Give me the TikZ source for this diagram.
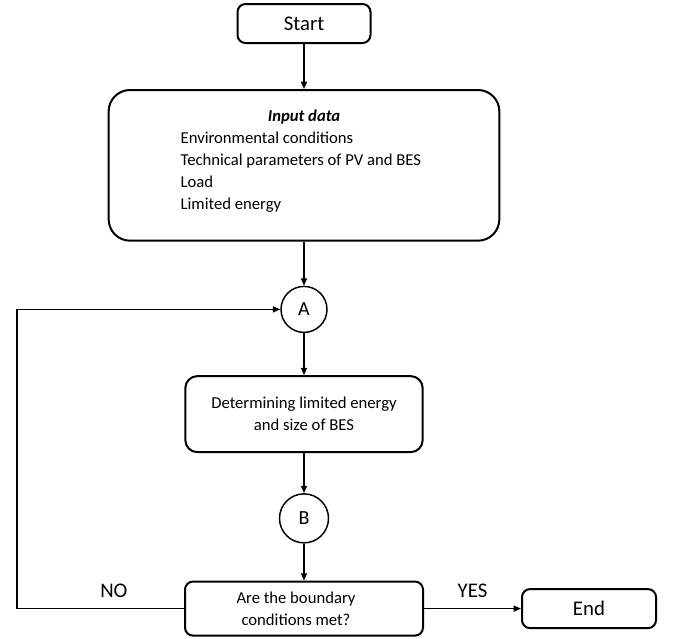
\documentclass[tikz,border=0pt]{standalone}
\usepackage{fontspec}
\setmainfont{Carlito}
\usetikzlibrary{positioning, arrows.meta}

\begin{document}
\begin{tikzpicture}[x=0.75pt, y=-0.75pt,
  block/.style={rectangle, rounded corners=6pt, draw=black, line width=1.5pt, align=center, inner sep=2pt, font=\fontsize{12.5}{16.5}\selectfont},
  bigtext/.style={font=\fontsize{15.6}{18}\selectfont},
  connector/.style={circle, draw=black, line width=1.1pt, inner sep=0pt, font=\fontsize{15}{18}\selectfont},
  flow/.style={-{Triangle[length=5.5pt, width=4.5pt]}, line width=1.1pt},
  flowlabel/.style={font=\fontsize{15.6}{18}\selectfont, inner sep=0pt}]
\useasboundingbox (0,0) rectangle (675,639);

\node (start) [block, bigtext, minimum width=99.75pt, minimum height=29.25pt] at (304,23.5) {Start};
\node (input) [below=33.75pt of start, block, rounded corners=16pt, minimum width=293pt, minimum height=113pt] {\parbox{185pt}{\centering\textbf{\textit{Input data}}\par\raggedright Environmental conditions\\Technical parameters of PV and BES\\Load\\Limited energy\par\vspace{7pt}}};
\node (A) [below=33pt of input, connector, minimum size=34.5pt] {A};
\node (determine) [below=31.5pt of A, block, rounded corners=9pt, minimum width=178pt, minimum height=57pt] {Determining limited energy\\and size of BES};
\node (B) [below=30pt of determine, connector, minimum size=36.75pt] {B};
\node (check) [below=27.75pt of B, block, minimum width=178.5pt, minimum height=40.5pt] {Are the boundary\hspace*{12pt}\\conditions met?\hspace*{12pt}};
\node (end) [right=72.75pt of check, block, bigtext, minimum width=100.5pt, minimum height=29.25pt] {End};
\coordinate (loop) at (17,0);

\draw[flow] (start) -- (input);
\draw[flow] (input) -- (A);
\draw[flow] (A) -- (determine);
\draw[flow] (determine) -- (B);
\draw[flow] (B) -- (check);
\draw[flow] (check.west) -- node[flowlabel, above=8pt, pos=0.42] {NO} (check.west -| loop) |- (A.west);
\draw[flow] (check) -- node[flowlabel, above=8pt] {YES} (end);
\end{tikzpicture}
\end{document}
